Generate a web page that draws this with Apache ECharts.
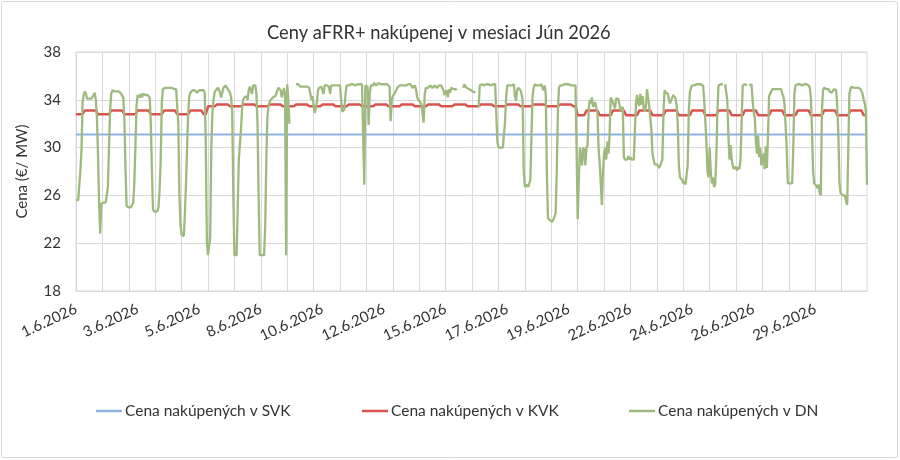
<!DOCTYPE html>
<html>
<head>
<meta charset="utf-8">
<script src="https://cdn.jsdelivr.net/npm/echarts@6/dist/echarts.min.js"></script>
<style>
html,body{margin:0;padding:0;background:#fff;}
#chart{width:900px;height:460px;}
</style>
</head>
<body>
<div id="chart"></div>
<script>
// Days of June 2026 (category labels)
const dates = ['1.6.2026','2.6.2026','3.6.2026','4.6.2026','5.6.2026','6.6.2026','7.6.2026','8.6.2026','9.6.2026','10.6.2026',
  '11.6.2026','12.6.2026','13.6.2026','14.6.2026','15.6.2026','16.6.2026','17.6.2026','18.6.2026','19.6.2026','20.6.2026',
  '21.6.2026','22.6.2026','23.6.2026','24.6.2026','25.6.2026','26.6.2026','27.6.2026','28.6.2026','29.6.2026','30.6.2026'];

// Series names
const nameSVK = 'Cena nakúpených v SVK';
const nameKVK = 'Cena nakúpených v KVK';
const nameDN  = 'Cena nakúpených v DN';

// SVK price per day (€/MW)
const svkDaily = [31.1,31.1,31.1,31.1,31.1,31.1,31.1,31.1,31.1,31.1,31.1,31.1,31.1,31.1,31.1,
  31.1,31.1,31.1,31.1,31.1,31.1,31.1,31.1,31.1,31.1,31.1,31.1,31.1,31.1,31.1];

// KVK price per 4-hour block (6 blocks per day)
const kvkBlocks = [
  [32.8,32.8,33.1,33.1,33.1,32.8],[32.8,32.8,33.1,33.1,33.1,32.8],[32.8,32.8,33.1,33.1,33.1,32.8],
  [32.8,32.8,33.1,33.1,33.1,32.8],[32.8,32.8,33.1,33.1,33.1,32.8],
  [33.45,33.45,33.6,33.6,33.6,33.45],[33.45,33.45,33.6,33.6,33.6,33.45],[33.45,33.45,33.6,33.6,33.6,33.45],
  [33.45,33.45,33.6,33.6,33.6,33.45],[33.45,33.45,33.6,33.6,33.6,33.45],[33.45,33.45,33.6,33.6,33.6,33.45],
  [33.45,33.45,33.6,33.6,33.6,33.45],[33.45,33.45,33.6,33.6,33.6,33.45],[33.45,33.45,33.6,33.6,33.6,33.45],
  [33.45,33.45,33.6,33.6,33.6,33.45],[33.45,33.45,33.6,33.6,33.6,33.45],[33.45,33.45,33.6,33.6,33.6,33.45],
  [33.45,33.45,33.6,33.6,33.6,33.45],[33.45,33.45,33.6,33.6,33.6,33.45],
  [32.7,32.7,33.1,33.1,33.1,32.7],[32.7,32.7,33.1,33.1,33.1,32.7],[32.7,32.7,33.1,33.1,33.1,32.7],
  [32.7,32.7,33.1,33.1,33.1,32.7],[32.7,32.7,33.1,33.1,33.1,32.7],[32.7,32.7,33.1,33.1,33.1,32.7],
  [32.7,32.7,33.1,33.1,33.1,32.7],[32.7,32.7,33.1,33.1,33.1,32.7],[32.7,32.7,33.1,33.1,33.1,32.7],
  [32.7,32.7,33.1,33.1,33.1,32.7],[32.7,32.7,33.1,33.1,33.1,32.7]
];

// DN price, hourly, one array per day
const dn01 = [25.6,25.6,25.6,25.6,28.1,29.8,33.8,34.4,34.7,34.5,34.1,34.1,34.1,34.1,34.1,34.1,34.4,34.6,34.0,32.6,29.5,25.3,22.8,25.3];
const dn02 = [25.4,25.4,25.4,25.4,25.4,26.7,30.1,33.1,34.5,34.8,34.7,34.7,34.7,34.7,34.7,34.7,34.7,34.5,34.4,34.2,32.3,28.1,25.1,25.0];
const dn03 = [25.0,25.0,25.0,25.0,25.4,27.0,30.1,33.4,34.4,34.5,34.2,34.5,34.2,34.5,34.5,34.4,34.5,34.4,34.5,34.2,32.0,28.1,24.8,24.7];
const dn04 = [24.6,24.7,24.7,25.0,26.5,29.0,33.8,34.9,35.0,35.0,34.9,35.0,35.0,35.0,34.9,35.0,35.0,34.9,35.0,34.9,34.9,32.0,26.0,23.5];
const dn05 = [22.7,22.6,22.6,24.5,27.0,30.0,33.0,34.3,34.6,34.7,34.8,34.7,34.8,34.7,34.6,34.7,34.8,34.7,34.8,34.8,34.8,34.6,30.0,22.0];
const dn06 = [21.0,21.0,22.5,30.0,33.0,34.0,34.6,34.8,34.9,35.0,34.9,34.6,34.2,34.3,35.0,35.1,35.2,35.1,34.9,34.8,34.6,34.2,33.0,26.0];
const dn07 = [21.0,21.0,21.0,25.0,29.0,30.3,31.5,33.4,34.0,34.2,34.3,34.3,34.0,34.8,35.1,35.0,34.5,35.2,35.3,35.2,34.5,32.0,26.0,21.0];
const dn08 = [21.0,21.0,21.0,21.0,23.5,29.0,32.6,33.5,33.8,34.0,34.1,34.2,34.1,34.3,34.5,34.8,35.0,35.1,34.8,34.2,34.5,35.0,34.5,21.0];
const dn09 = [35.3,34.0,32.0,null,null,null,null,null,35.3,35.3,35.3,35.2,35.1,35.2,35.1,35.2,35.1,35.2,35.1,35.2,35.0,34.5,34.0,34.3];
const dn10 = [33.5,32.9,33.0,33.8,34.8,35.0,34.9,35.1,35.2,34.5,35.2,35.3,35.2,35.3,35.1,34.5,35.2,35.3,35.2,35.3,35.2,35.1,35.2,35.3];
const dn11 = [35.2,34.0,33.0,33.0,33.2,34.5,35.2,35.3,35.2,35.3,35.3,35.2,35.3,35.3,35.2,35.3,35.3,35.2,35.3,35.2,35.3,35.2,26.9,35.2];
const dn12 = [35.2,35.1,31.9,34.5,35.2,35.3,35.2,35.4,35.3,35.2,35.3,35.4,35.3,35.3,35.2,35.3,35.4,35.3,35.2,35.3,35.2,35.1,32.2,34.0];
const dn13 = [34.3,34.4,34.6,34.8,35.0,35.1,35.2,35.2,35.2,35.2,35.2,35.2,35.2,35.3,35.3,35.3,35.3,35.2,35.0,35.1,35.2,34.9,34.3,34.0];
const dn14 = [34.0,33.8,33.6,33.5,32.1,34.5,35.0,35.1,35.0,35.1,35.2,35.1,35.0,35.1,35.2,35.1,35.0,35.1,35.2,35.1,35.2,35.2,34.8,34.4];
const dn15 = [34.3,34.8,34.2,34.9,34.6,35.0,35.0,34.9,35.0,34.9,34.8,null,null,null,null,null,35.0,35.3,35.2,35.0,35.0,34.9,34.8,34.8];
const dn16 = [34.8,34.7,34.7,34.6,null,null,33.4,35.2,35.2,35.3,35.3,35.2,35.3,35.3,35.2,35.3,35.3,35.2,35.3,35.3,35.2,35.3,35.2,30.5];
const dn17 = [30.0,30.0,30.0,30.0,30.0,30.1,32.2,34.2,35.2,35.3,35.2,35.3,35.2,35.2,35.3,34.3,33.9,34.8,35.0,34.9,34.8,34.5,34.0,28.0];
const dn18 = [26.7,26.7,26.9,26.7,26.8,27.3,31.0,34.3,35.0,35.3,35.3,35.2,35.3,35.2,35.3,35.3,35.0,34.8,35.2,34.5,28.0,24.1,24.0,23.9];
const dn19 = [23.9,23.8,24.0,23.9,24.5,28.0,33.0,35.0,35.2,35.3,35.2,35.3,35.3,35.2,35.3,35.2,35.3,35.3,35.2,35.3,35.2,35.2,35.2,30.0];
const dn20 = [24.0,27.0,30.0,30.0,28.5,30.0,29.8,28.5,30.0,30.2,33.2,34.0,33.7,34.2,33.4,33.6,33.8,33.3,32.9,30.0,28.7,27.0,25.2,28.0];
const dn21 = [29.5,30.0,29.0,30.5,29.5,31.0,34.2,34.3,33.8,33.5,33.3,34.1,34.0,34.1,33.6,33.1,33.0,33.4,29.2,29.0,29.1,29.0,29.3,29.0];
const dn22 = [29.2,29.0,29.1,29.0,29.1,33.7,34.4,33.7,33.5,34.5,33.6,34.3,33.3,33.0,33.4,34.9,35.0,33.5,32.5,31.5,29.5,29.0,28.6,28.5];
const dn23 = [28.6,28.5,28.3,28.5,28.4,29.0,33.0,34.8,34.6,34.5,34.5,34.0,33.7,33.8,34.2,34.4,34.3,34.1,33.5,32.0,28.5,27.5,27.6,27.3];
const dn24 = [27.0,27.2,26.9,27.0,28.5,33.0,34.6,35.0,35.2,35.3,35.2,35.3,35.3,35.3,35.3,35.3,35.3,35.3,35.2,34.0,32.3,30.5,28.0,27.5];
const dn25 = [30.0,28.0,27.0,27.5,26.7,26.9,29.0,33.0,35.2,35.3,35.3,35.2,35.3,null,35.3,35.2,34.0,31.0,29.0,30.2,29.0,28.5,28.2,28.4];
const dn26 = [28.3,28.1,28.4,28.2,29.0,32.0,35.2,35.3,35.3,35.2,35.2,null,35.2,35.2,35.3,34.0,33.0,32.5,30.5,29.5,31.0,29.2,30.0,28.5];
const dn27 = [28.5,29.5,28.2,30.1,28.3,31.0,34.3,34.5,34.5,34.9,35.0,34.9,35.0,34.9,34.8,34.9,35.0,34.9,34.5,34.3,33.7,33.6,30.0,27.0];
const dn28 = [27.0,27.0,27.1,27.0,30.0,34.5,35.2,35.3,35.3,35.2,35.3,35.3,35.2,35.3,35.3,35.2,35.3,35.3,35.2,35.0,34.2,31.5,28.0,27.0];
const dn29 = [27.0,26.8,26.6,26.9,26.2,26.0,33.0,34.8,35.0,35.0,34.9,35.0,34.9,34.7,34.6,34.6,34.7,34.9,35.0,34.8,33.4,31.0,27.0,26.2];
const dn30 = [26.1,26.0,26.1,26.0,25.5,25.2,30.0,34.5,34.9,35.1,35.1,35.0,35.1,35.0,35.1,35.0,35.0,34.9,34.8,34.5,34.0,33.7,33.0,26.9];

const dnDays = [dn01,dn02,dn03,dn04,dn05,dn06,dn07,dn08,dn09,dn10,dn11,dn12,dn13,dn14,dn15,
  dn16,dn17,dn18,dn19,dn20,dn21,dn22,dn23,dn24,dn25,dn26,dn27,dn28,dn29,dn30];

// Build hourly series from the tables above
const categories = [];
const svk = [], kvk = [], dn = [];
for (let d = 0; d < dates.length; d++) {
  for (let h = 0; h < 24; h++) {
    categories.push(dates[d]);
    svk.push(svkDaily[d]);
    kvk.push(kvkBlocks[d][Math.floor(h / 4)]);
    dn.push(dnDays[d][h]);
  }
}

const FONT = 'Lato';
const chart = echarts.init(document.getElementById('chart'), null, {renderer: 'canvas'});
const legendBase = {
  orient: 'horizontal', icon: 'rect', itemWidth: 26, itemHeight: 2.5, itemGap: 5,
  textStyle: {fontFamily: FONT, fontSize: 15.5, color: '#333', padding: [0, 0, 0, -2]},
  selectedMode: false
};
chart.setOption({
  animation: false,
  backgroundColor: '#fff',
  title: {
    text: 'Ceny aFRR+ nakúpenej v mesiaci Jún 2026',
    left: 262, top: 19,
    textStyle: {fontFamily: FONT, fontSize: 18.3, fontWeight: 'normal', color: '#333'}
  },
  graphic: [{
    type: 'rect', shape: {x: 1.5, y: 1.5, width: 896, height: 456, r: 2},
    style: {fill: 'none', stroke: '#d9d9d9', lineWidth: 1}, silent: true, z: -1
  }],
  legend: [
    Object.assign({}, legendBase, {data: [nameSVK], left: 91, top: 398}),
    Object.assign({}, legendBase, {data: [nameKVK], left: 357, top: 398}),
    Object.assign({}, legendBase, {data: [nameDN], left: 624, top: 398})
  ],
  grid: {left: 76, right: 33, top: 52, bottom: 169, show: true, borderColor: '#d9d9d9', borderWidth: 1, containLabel: false},
  xAxis: {
    type: 'category', data: categories, boundaryGap: false,
    axisLine: {show: true, lineStyle: {color: '#d9d9d9'}},
    axisTick: {show: false},
    splitLine: {show: true, interval: 23, lineStyle: {color: '#d9d9d9', width: 1}},
    axisLabel: {interval: 55, rotate: 25, margin: 17, fontFamily: FONT, fontSize: 15, color: '#333'}
  },
  yAxis: {
    type: 'value', min: 18, max: 38, interval: 4,
    name: 'Cena (€/ MW)', nameLocation: 'middle', nameGap: 46, nameRotate: 90,
    nameTextStyle: {fontFamily: FONT, fontSize: 15, color: '#333'},
    axisLine: {show: false}, axisTick: {show: false},
    splitLine: {lineStyle: {color: '#d9d9d9', width: 1}},
    axisLabel: {margin: 15, fontFamily: FONT, fontSize: 15, color: '#333'}
  },
  series: [
    {name: nameSVK, type: 'line', data: svk, symbol: 'none', showSymbol: false,
      lineStyle: {color: '#8DB3E2', width: 2}, itemStyle: {color: '#8DB3E2'}},
    {name: nameKVK, type: 'line', data: kvk, symbol: 'none', showSymbol: false,
      lineStyle: {color: '#D9534F', width: 2.5}, itemStyle: {color: '#D9534F'}},
    {name: nameDN, type: 'line', data: dn, symbol: 'none', showSymbol: false, connectNulls: false,
      lineStyle: {color: '#9FBA7E', width: 2.3}, itemStyle: {color: '#9FBA7E'}}
  ]
});
</script>
</body>
</html>
